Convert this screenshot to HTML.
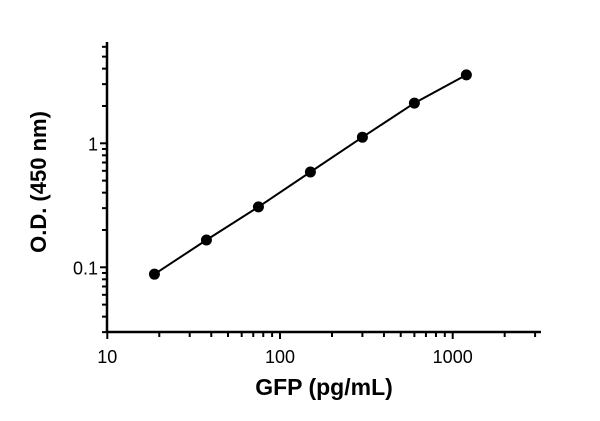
<!DOCTYPE html>
<html><head><meta charset="utf-8"><style>
body{margin:0;background:#fff;width:600px;height:421px;overflow:hidden}
svg{display:block;font-family:"Liberation Sans",sans-serif}
</style></head><body>
<svg id="chart" width="600" height="421">
<g id="axes"></g>
<g id="marks"></g>
<text x="324" y="395" text-anchor="middle" font-size="23" font-weight="bold">GFP (pg/mL)</text>
<text transform="translate(46,182) rotate(-90)" text-anchor="middle" font-size="22" font-weight="bold">O.D. (450 nm)</text>
</svg>
<script>
const concentrations = [18.75, 37.5, 75, 150, 300, 600, 1200];
const odValues = [0.088, 0.166, 0.307, 0.587, 1.12, 2.11, 3.56];
const xTickLabels = ["10", "100", "1000"];
const yTickLabels = ["0.1", "1"];

const NS = "http://www.w3.org/2000/svg";
const X0 = 107.3, XD = 172.7, Y1 = 143.3, YD = 124;
const xs = v => X0 + Math.log10(v / 10) * XD;
const ys = v => Y1 - Math.log10(v) * YD;
function mk(tag, attrs, parent) {
  const e = document.createElementNS(NS, tag);
  for (const k in attrs) e.setAttribute(k, attrs[k]);
  parent.appendChild(e);
  return e;
}
const ax = document.getElementById("axes");
const mg = document.getElementById("marks");
const AXY = 332, AXX = 107;
let l = mk("line", {x1: AXX, y1: AXY, x2: 541, y2: AXY, stroke: "#000", "stroke-width": 2.5}, ax);


l = mk("line", {x1: AXX, y1: 42, x2: AXX, y2: AXY, stroke: "#000", "stroke-width": 2.5}, ax);


for (let d = 10; d <= 1000; d *= 10) {
  for (let m = 1; m <= 9; m++) {
    const v = d * m;
    if (v > 3000) break;
    const x = xs(v);
    const t = mk("line", {x1: x, y1: AXY, x2: x, y2: AXY + (m === 1 ? 7 : 5), stroke: "#000", "stroke-width": 2}, ax);
    
    
  }
}
xTickLabels.forEach(s => {
  const t = mk("text", {x: xs(+s), y: 363, "text-anchor": "middle", "font-size": 18}, ax);
  t.textContent = s;
  
  
});
for (let d = 0.01; d <= 1.001; d *= 10) {
  for (let m = 1; m <= 9; m++) {
    const v = d * m;
    if (v < 0.0299 || v > 6.5) continue;
    const y = ys(v);
    const major = m === 1;
    const t = mk("line", {x1: AXX - (major ? 7 : 5), y1: y, x2: AXX, y2: y, stroke: "#000", "stroke-width": 2}, ax);
    
    
  }
}
yTickLabels.forEach(s => {
  const t = mk("text", {x: 98, y: ys(+s) + 7, "text-anchor": "end", "font-size": 18}, ax);
  t.textContent = s;
  
  
});
const pts = concentrations.map((c, i) => xs(c) + "," + ys(odValues[i])).join(" ");
const pl = mk("polyline", {points: pts, fill: "none", stroke: "#000", "stroke-width": 2}, mg);


concentrations.forEach((c, i) => {
  const p = mk("circle", {cx: xs(c), cy: ys(odValues[i]), r: 5.5, fill: "#000"}, mg);
  
  
});
</script>
</body></html>
